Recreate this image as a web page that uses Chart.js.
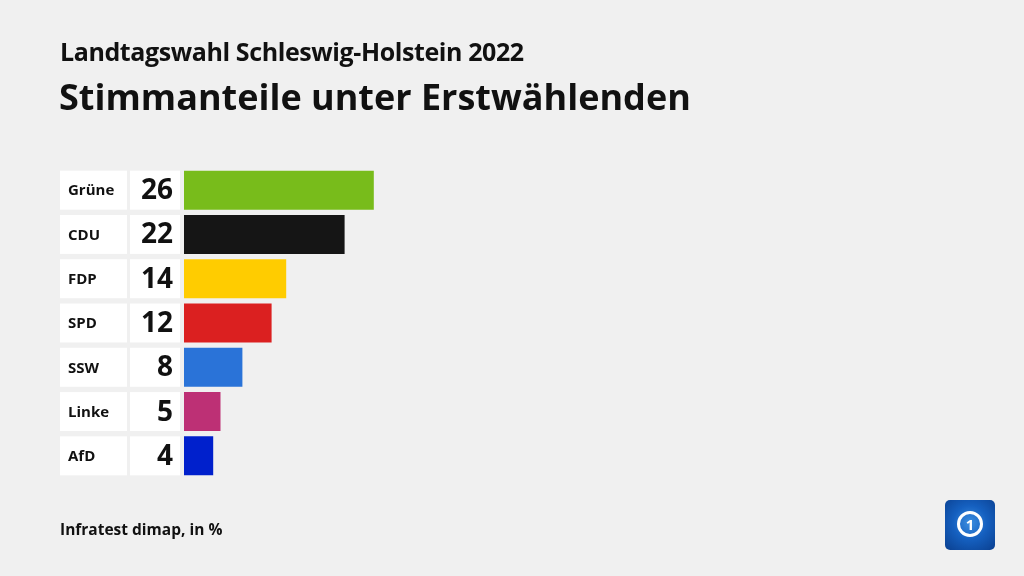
<!DOCTYPE html>
<html>
<head>
<meta charset="utf-8">
<script src="https://cdn.jsdelivr.net/npm/chart.js@4"></script>
<style>
  body { margin: 0; background: #f0f0f0; font-family: "Open Sans", sans-serif; }
  #wrap { position: relative; width: 1024px; height: 576px; overflow: hidden; }
  #chart { position: absolute; left: 0; top: 0; }
  .sub { position: absolute; left: 60px; top: 34px; font-size: 25px; font-weight: 700; color: #111; letter-spacing: -0.4px; }
  .title { position: absolute; left: 59px; top: 72px; font-size: 36px; font-weight: 700; color: #111; letter-spacing: 0px; }
  .src { position: absolute; left: 60px; top: 518px; font-size: 15.5px; font-weight: 700; color: #111; }
  .logo { position: absolute; left: 945px; top: 500px; width: 50px; height: 50px; border-radius: 5px;
    background: radial-gradient(circle at 50% 45%, #3d8fe0 0%, #1560c0 45%, #0a3f8f 100%); }
  .logo .ring { position: absolute; left: 12px; top: 11px; width: 20px; height: 20px; border: 3px solid #fff; border-radius: 50%;
    color: #fff; font: 700 15px "Open Sans", sans-serif; text-align: center; line-height: 20px; }
</style>
</head>
<body>
<div id="wrap">
  <canvas id="chart" width="1024" height="576"></canvas>
  <div class="sub">Landtagswahl Schleswig-Holstein 2022</div>
  <div class="title">Stimmanteile unter Erstwählenden</div>
  <div class="src">Infratest dimap, in %</div>
  <div class="logo"><div class="ring">1</div></div>
</div>
<script>
const parties = ["Grüne", "CDU", "FDP", "SPD", "SSW", "Linke", "AfD"];
const shares = [26, 22, 14, 12, 8, 5, 4];
const partyColors = ["#78bc1b", "#151515", "#ffcc00", "#db2020", "#2a73d8", "#bd3075", "#0020cc"];

// white label + value cells left of each bar
const labelCells = {
  id: 'labelCells',
  afterDatasetsDraw(chart) {
    const ctx = chart.ctx;
    const meta = chart.getDatasetMeta(0);
    ctx.save();
    meta.data.forEach((bar, i) => {
      const h = bar.height;
      const top = bar.y - h / 2;
      ctx.fillStyle = '#fff';
      ctx.fillRect(60, top, 67, h);
      ctx.fillRect(130, top, 50, h);
      ctx.fillStyle = '#111';
      ctx.textBaseline = 'middle';
      ctx.textAlign = 'left';
      ctx.font = '700 15px "Open Sans", sans-serif';
      ctx.fillText(parties[i], 68, bar.y + 1);
      ctx.textAlign = 'right';
      ctx.font = '700 28px "Open Sans", sans-serif';
      ctx.fillText(shares[i], 173, bar.y + 1);
    });
    ctx.restore();
  }
};

new Chart(document.getElementById('chart'), {
  type: 'bar',
  data: {
    labels: parties,
    datasets: [{
      data: shares,
      backgroundColor: partyColors,
      barPercentage: 0.88,
      categoryPercentage: 1
    }]
  },
  options: {
    indexAxis: 'y',
    responsive: false,
    animation: false,
    layout: { padding: { left: 184, top: 168, right: 110, bottom: 98 } },
    plugins: { legend: { display: false }, tooltip: { enabled: false } },
    scales: {
      x: { display: false, min: 0, max: 100 },
      y: { display: false }
    }
  },
  plugins: [labelCells]
});
</script>
</body>
</html>
